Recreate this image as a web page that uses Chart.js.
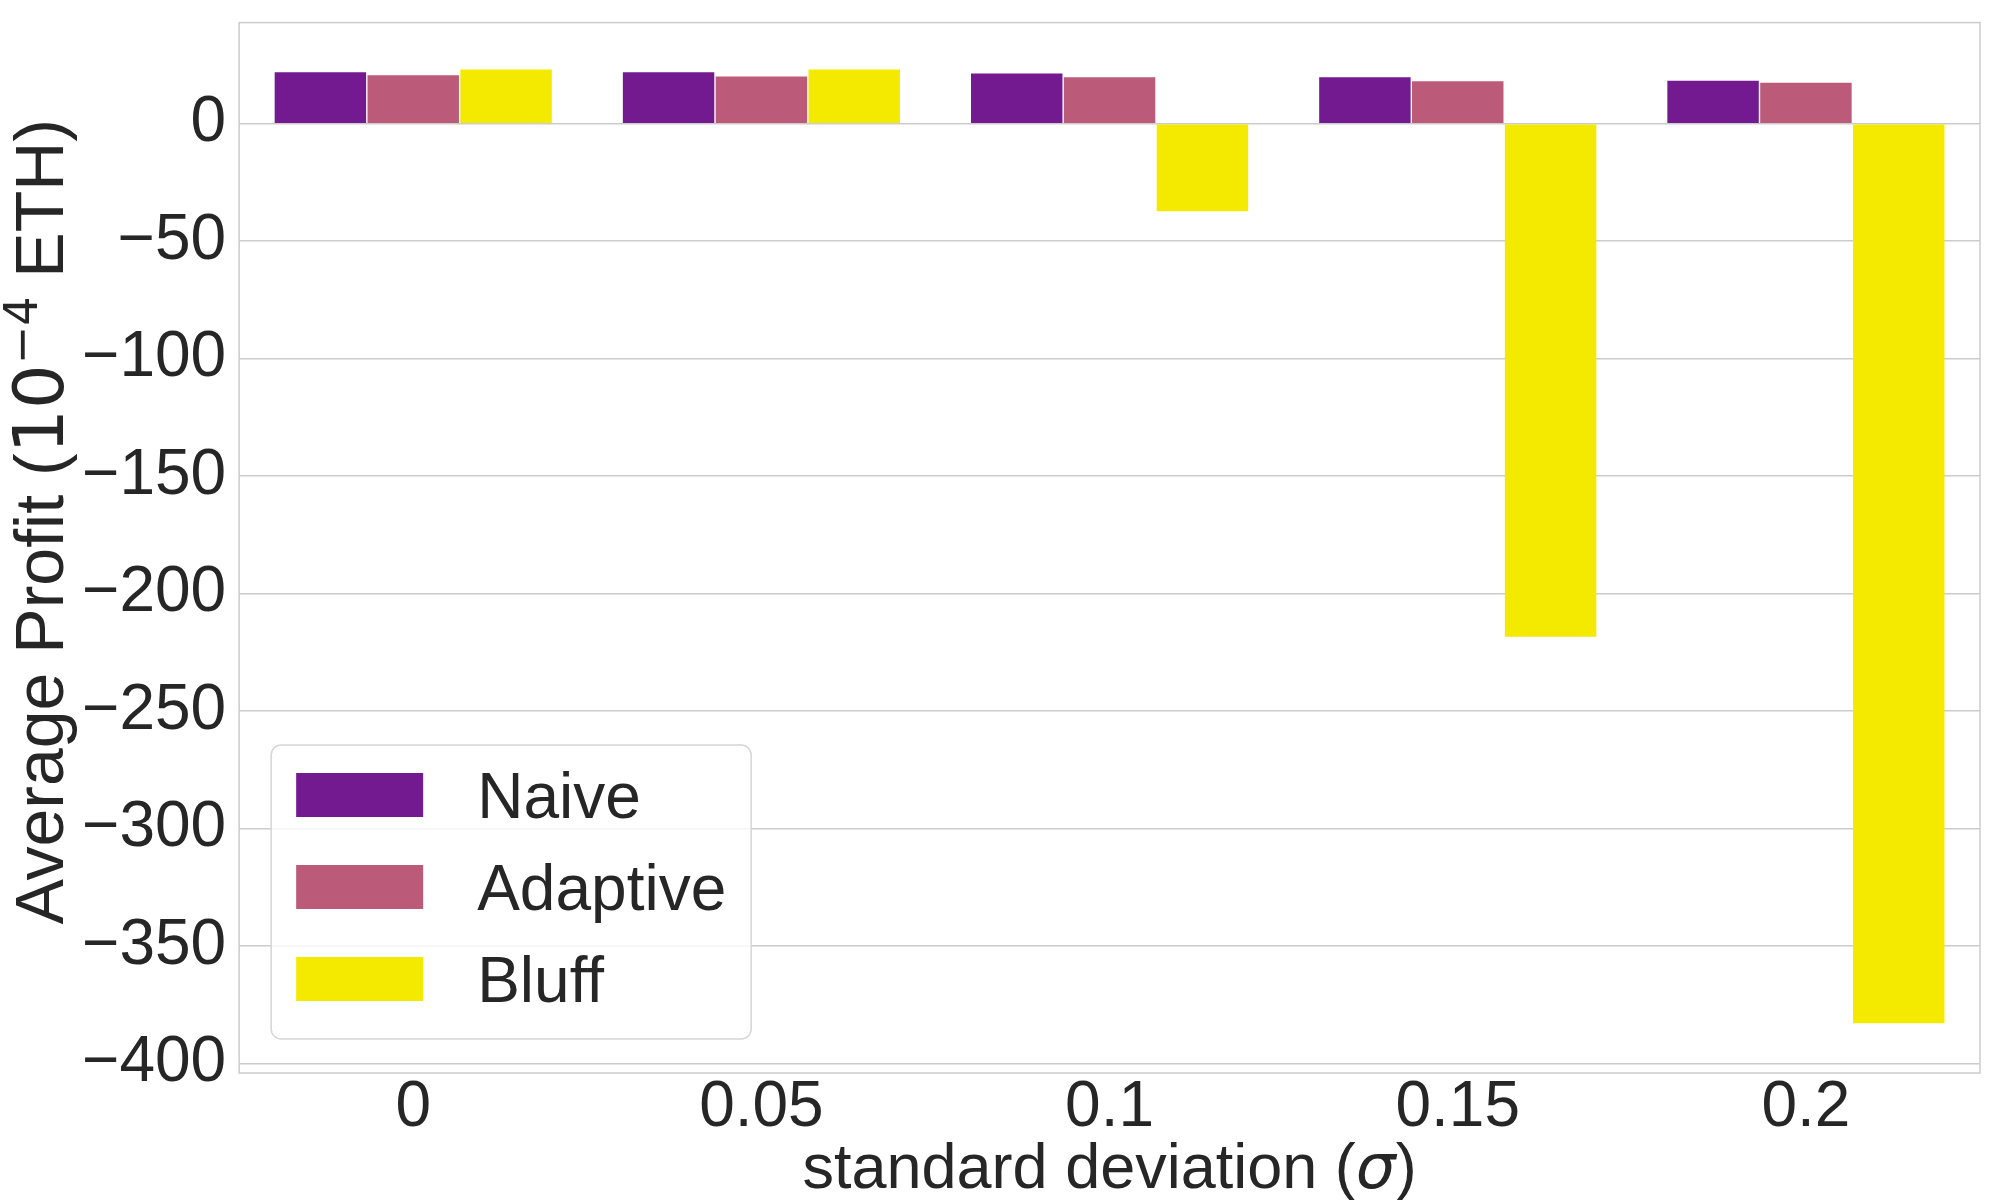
<!DOCTYPE html>
<html>
<head>
<meta charset="utf-8">
<script src="https://cdn.jsdelivr.net/npm/chart.js@4"></script>
<style>
  body { margin: 0; background: #fff; }
  #chart { display: block; }
</style>
</head>
<body>
<canvas id="chart" width="2000" height="1200"></canvas>
<script>
const sigmaLabels = ['0', '0.05', '0.1', '0.15', '0.2'];
const naiveProfit = [21.9, 21.9, 21.3, 19.7, 18.3];
const adaptiveProfit = [20.6, 20.1, 19.7, 18.0, 17.4];
const bluffProfit = [23.0, 23.0, -37.3, -218.4, -382.8];
const yTicks = [0, -50, -100, -150, -200, -250, -300, -350, -400];

const textColor = '#262626';
const gridColor = '#cccccc';
const fontFamily = '"Liberation Sans", Arial, sans-serif';
const mathFamily = '"DejaVu Sans", sans-serif';

// frame round the plot area (all four spines)
const framePlugin = {
  id: 'frame',
  afterDatasetsDraw(chart) {
    const a = chart.chartArea;
    const ctx = chart.ctx;
    ctx.save();
    ctx.strokeStyle = gridColor;
    ctx.lineWidth = 1.5;
    ctx.strokeRect(a.left, a.top, a.right - a.left, a.bottom - a.top);
    ctx.restore();
  }
};

// draws a row of [text, font, raise] pieces starting at x
function drawPieces(ctx, pieces, x, y) {
  pieces.forEach(p => {
    ctx.font = p[1];
    ctx.fillText(p[0], x, y - p[2]);
    x += ctx.measureText(p[0]).width;
  });
}

function piecesWidth(ctx, pieces) {
  return pieces.reduce((s, p) => {
    ctx.font = p[1];
    return s + ctx.measureText(p[0]).width;
  }, 0);
}

// axis titles, drawn by hand for the superscript and the italic sigma
const axisTitles = {
  id: 'axisTitles',
  afterDraw(chart) {
    const a = chart.chartArea;
    const ctx = chart.ctx;
    ctx.save();
    ctx.fillStyle = textColor;
    ctx.textBaseline = 'alphabetic';

    const xPieces = [
      ['standard deviation (', '63px ' + fontFamily, 0],
      ['\u03C3', 'italic 63px ' + mathFamily, 0],
      [')', '63px ' + fontFamily, 0]
    ];
    const xw = piecesWidth(ctx, xPieces);
    drawPieces(ctx, xPieces, (a.left + a.right) / 2 - xw / 2, 1188);

    const yPieces = [
      ['Average Profit (', '68px ' + fontFamily, 0],
      ['10', '70px ' + mathFamily, 0],
      ['\u22124', '46px ' + mathFamily, 26],
      [' ETH)', '68px ' + fontFamily, 0]
    ];
    const yw = piecesWidth(ctx, yPieces);
    ctx.translate(63, (a.top + a.bottom) / 2 - 26);
    ctx.rotate(-Math.PI / 2);
    drawPieces(ctx, yPieces, -yw / 2, 0);
    ctx.restore();
  }
};

// legend box in the lower left corner of the plot
const insideLegend = {
  id: 'insideLegend',
  afterDraw(chart) {
    const a = chart.chartArea;
    const ctx = chart.ctx;
    const x = a.left + 32, w = 480, h = 294;
    const y = a.bottom - 34 - h;
    ctx.save();
    ctx.beginPath();
    ctx.roundRect(x, y, w, h, 10);
    ctx.fillStyle = 'rgba(255,255,255,0.8)';
    ctx.fill();
    ctx.strokeStyle = '#d6d6d6';
    ctx.lineWidth = 1.5;
    ctx.stroke();
    ctx.font = '64px ' + fontFamily;
    ctx.textBaseline = 'alphabetic';
    chart.data.datasets.forEach((ds, i) => {
      const cy = y + 50 + i * 92;
      ctx.fillStyle = ds.backgroundColor;
      ctx.fillRect(x + 25, cy - 22, 127, 44);
      ctx.fillStyle = textColor;
      ctx.fillText(ds.label, x + 206, cy + 23);
    });
    ctx.restore();
  }
};

new Chart(document.getElementById('chart'), {
  type: 'bar',
  data: {
    labels: sigmaLabels,
    datasets: [
      { label: 'Naive', data: naiveProfit, backgroundColor: '#741a91' },
      { label: 'Adaptive', data: adaptiveProfit, backgroundColor: '#bc5a7a' },
      { label: 'Bluff', data: bluffProfit, backgroundColor: '#f4ea00' }
    ]
  },
  options: {
    responsive: false,
    animation: false,
    devicePixelRatio: 1,
    categoryPercentage: 0.8,
    barPercentage: 0.985,
    layout: { padding: { left: 69, right: 20, top: 0, bottom: 57 } },
    plugins: {
      legend: { display: false },
      tooltip: { enabled: false }
    },
    scales: {
      x: {
        grid: { display: false, drawTicks: false },
        border: { display: false },
        ticks: {
          color: textColor,
          padding: 3,
          font: { family: fontFamily, size: 64, lineHeight: 1 }
        }
      },
      y: {
        min: -404,
        max: 43,
        afterBuildTicks(scale) {
          scale.ticks = yTicks.map(v => ({ value: v }));
        },
        grid: { color: gridColor, lineWidth: 1.5, drawTicks: false },
        border: { display: false },
        ticks: {
          color: textColor,
          padding: 13,
          font: { family: fontFamily, size: 64, lineHeight: 0.3 },
          callback: v => (v < 0 ? '\u2212' + Math.abs(v) : String(v))
        }
      }
    }
  },
  plugins: [framePlugin, axisTitles, insideLegend]
});
</script>
</body>
</html>
